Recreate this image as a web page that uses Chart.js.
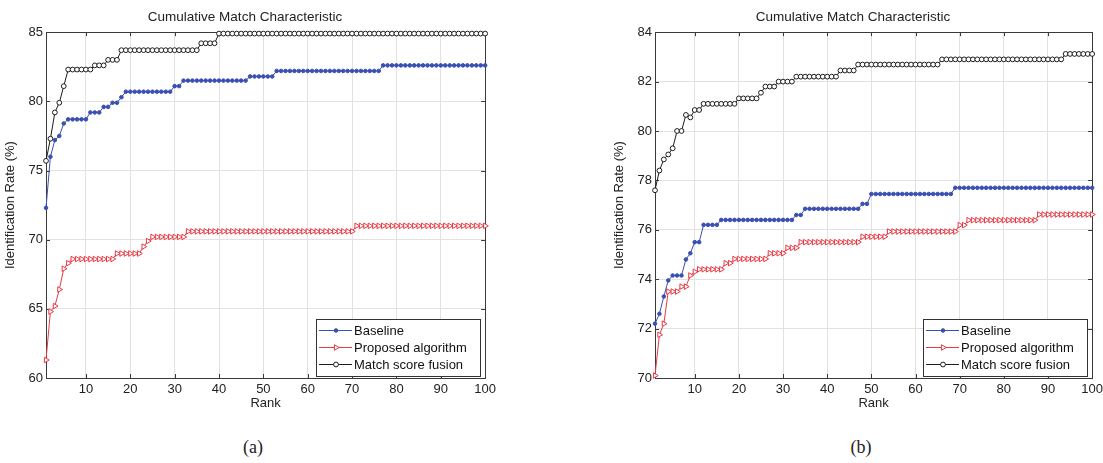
<!DOCTYPE html>
<html>
<head>
<meta charset="utf-8">
<script src="https://cdn.jsdelivr.net/npm/chart.js@4.4.1/dist/chart.umd.min.js"></script>
<style>
    html, body { margin: 0; padding: 0; background: #fff; }
    body { width: 1103px; height: 463px; position: relative; overflow: hidden; }
    canvas { position: absolute; top: 0; }
    #chartA { left: 0; }
    #chartB { left: 609px; }
    .cap {
        position: absolute; top: 437px;
        font: 18px 'Liberation Serif', 'Times New Roman', serif; color: #222;
        transform: translateX(-50%);
    }
</style>
</head>
<body>
<canvas id="chartA" width="500" height="416"></canvas>
<canvas id="chartB" width="498" height="416"></canvas>
<div class="cap" style="left:253px">(a)</div>
<div class="cap" style="left:861px">(b)</div>
<script>
const ranks = Array.from({ length: 100 }, (_, i) => i + 1);
const seriesNames = ['Baseline', 'Proposed algorithm', 'Match score fusion'];
const xTicks = [10, 20, 30, 40, 50, 60, 70, 80, 90, 100];
const yTicksA = [60, 65, 70, 75, 80, 85];
const yTicksB = [70, 72, 74, 76, 78, 80, 82, 84];

// (a)
const baselineA = [
    72.3, 76.0, 77.2, 77.5, 78.4, 78.7, 78.7, 78.7, 78.7, 78.7,
    79.2, 79.2, 79.2, 79.6, 79.6, 79.9, 79.9, 80.3, 80.7, 80.7,
    80.7, 80.7, 80.7, 80.7, 80.7, 80.7, 80.7, 80.7, 80.7, 81.1,
    81.1, 81.5, 81.5, 81.5, 81.5, 81.5, 81.5, 81.5, 81.5, 81.5,
    81.5, 81.5, 81.5, 81.5, 81.5, 81.5, 81.8, 81.8, 81.8, 81.8,
    81.8, 81.8, 82.2, 82.2, 82.2, 82.2, 82.2, 82.2, 82.2, 82.2,
    82.2, 82.2, 82.2, 82.2, 82.2, 82.2, 82.2, 82.2, 82.2, 82.2,
    82.2, 82.2, 82.2, 82.2, 82.2, 82.2, 82.6, 82.6, 82.6, 82.6,
    82.6, 82.6, 82.6, 82.6, 82.6, 82.6, 82.6, 82.6, 82.6, 82.6,
    82.6, 82.6, 82.6, 82.6, 82.6, 82.6, 82.6, 82.6, 82.6, 82.6
];
const proposedA = [
    61.3, 64.8, 65.2, 66.4, 67.9, 68.3, 68.6, 68.6, 68.6, 68.6,
    68.6, 68.6, 68.6, 68.6, 68.6, 68.6, 69.0, 69.0, 69.0, 69.0,
    69.0, 69.0, 69.5, 69.9, 70.2, 70.2, 70.2, 70.2, 70.2, 70.2,
    70.2, 70.2, 70.6, 70.6, 70.6, 70.6, 70.6, 70.6, 70.6, 70.6,
    70.6, 70.6, 70.6, 70.6, 70.6, 70.6, 70.6, 70.6, 70.6, 70.6,
    70.6, 70.6, 70.6, 70.6, 70.6, 70.6, 70.6, 70.6, 70.6, 70.6,
    70.6, 70.6, 70.6, 70.6, 70.6, 70.6, 70.6, 70.6, 70.6, 70.6,
    71.0, 71.0, 71.0, 71.0, 71.0, 71.0, 71.0, 71.0, 71.0, 71.0,
    71.0, 71.0, 71.0, 71.0, 71.0, 71.0, 71.0, 71.0, 71.0, 71.0,
    71.0, 71.0, 71.0, 71.0, 71.0, 71.0, 71.0, 71.0, 71.0, 71.0
];
const fusionA = [
    75.7, 77.3, 79.2, 79.9, 81.1, 82.3, 82.3, 82.3, 82.3, 82.3,
    82.3, 82.6, 82.6, 82.6, 83.0, 83.0, 83.0, 83.7, 83.7, 83.7,
    83.7, 83.7, 83.7, 83.7, 83.7, 83.7, 83.7, 83.7, 83.7, 83.7,
    83.7, 83.7, 83.7, 83.7, 83.7, 84.2, 84.2, 84.2, 84.2, 84.9,
    84.9, 84.9, 84.9, 84.9, 84.9, 84.9, 84.9, 84.9, 84.9, 84.9,
    84.9, 84.9, 84.9, 84.9, 84.9, 84.9, 84.9, 84.9, 84.9, 84.9,
    84.9, 84.9, 84.9, 84.9, 84.9, 84.9, 84.9, 84.9, 84.9, 84.9,
    84.9, 84.9, 84.9, 84.9, 84.9, 84.9, 84.9, 84.9, 84.9, 84.9,
    84.9, 84.9, 84.9, 84.9, 84.9, 84.9, 84.9, 84.9, 84.9, 84.9,
    84.9, 84.9, 84.9, 84.9, 84.9, 84.9, 84.9, 84.9, 84.9, 84.9
];

// (b)
const baselineB = [
    72.2, 72.6, 73.3, 73.95, 74.15, 74.15, 74.15, 74.8, 75.05, 75.5,
    75.5, 76.2, 76.2, 76.2, 76.2, 76.4, 76.4, 76.4, 76.4, 76.4,
    76.4, 76.4, 76.4, 76.4, 76.4, 76.4, 76.4, 76.4, 76.4, 76.4,
    76.4, 76.4, 76.6, 76.6, 76.85, 76.85, 76.85, 76.85, 76.85, 76.85,
    76.85, 76.85, 76.85, 76.85, 76.85, 76.85, 76.85, 77.05, 77.05, 77.45,
    77.45, 77.45, 77.45, 77.45, 77.45, 77.45, 77.45, 77.45, 77.45, 77.45,
    77.45, 77.45, 77.45, 77.45, 77.45, 77.45, 77.45, 77.45, 77.7, 77.7,
    77.7, 77.7, 77.7, 77.7, 77.7, 77.7, 77.7, 77.7, 77.7, 77.7,
    77.7, 77.7, 77.7, 77.7, 77.7, 77.7, 77.7, 77.7, 77.7, 77.7,
    77.7, 77.7, 77.7, 77.7, 77.7, 77.7, 77.7, 77.7, 77.7, 77.7
];
const proposedB = [
    70.1, 71.75, 72.2, 73.5, 73.5, 73.5, 73.7, 73.7, 74.15, 74.3,
    74.4, 74.4, 74.4, 74.4, 74.4, 74.4, 74.65, 74.65, 74.82, 74.82,
    74.82, 74.82, 74.82, 74.82, 74.82, 74.82, 75.05, 75.05, 75.05, 75.05,
    75.27, 75.27, 75.27, 75.5, 75.5, 75.5, 75.5, 75.5, 75.5, 75.5,
    75.5, 75.5, 75.5, 75.5, 75.5, 75.5, 75.5, 75.72, 75.72, 75.72,
    75.72, 75.72, 75.72, 75.93, 75.93, 75.93, 75.93, 75.93, 75.93, 75.93,
    75.93, 75.93, 75.93, 75.93, 75.93, 75.93, 75.93, 75.93, 75.93, 76.19,
    76.19, 76.39, 76.39, 76.39, 76.39, 76.39, 76.39, 76.39, 76.39, 76.39,
    76.39, 76.39, 76.39, 76.39, 76.39, 76.39, 76.39, 76.62, 76.62, 76.62,
    76.62, 76.62, 76.62, 76.62, 76.62, 76.62, 76.62, 76.62, 76.62, 76.62
];
const fusionB = [
    77.6, 78.4, 78.85, 79.05, 79.3, 80.0, 80.0, 80.65, 80.55, 80.85,
    80.85, 81.1, 81.1, 81.1, 81.1, 81.1, 81.1, 81.1, 81.1, 81.32,
    81.32, 81.32, 81.32, 81.32, 81.55, 81.8, 81.8, 81.8, 82.0, 82.0,
    82.0, 82.0, 82.2, 82.2, 82.2, 82.2, 82.2, 82.2, 82.2, 82.2,
    82.2, 82.2, 82.45, 82.45, 82.45, 82.45, 82.69, 82.69, 82.69, 82.69,
    82.69, 82.69, 82.69, 82.69, 82.69, 82.69, 82.69, 82.69, 82.69, 82.69,
    82.69, 82.69, 82.69, 82.69, 82.69, 82.9, 82.9, 82.9, 82.9, 82.9,
    82.9, 82.9, 82.9, 82.9, 82.9, 82.9, 82.9, 82.9, 82.9, 82.9,
    82.9, 82.9, 82.9, 82.9, 82.9, 82.9, 82.9, 82.9, 82.9, 82.9,
    82.9, 82.9, 82.9, 83.12, 83.12, 83.12, 83.12, 83.12, 83.12, 83.12
];

const FONT = "'Liberation Sans', Arial, Helvetica, sans-serif";
const BLUE = '#3a4fb2';
const RED = '#e63a44';
const BLACK = '#1c1c1c';

// box round the plot, with short ticks pointing inward (matlab style)
const frame = {
    id: 'frame',
    beforeDatasetsDraw(chart) {
        const { ctx, chartArea: a, scales } = chart;
        ctx.save();
        ctx.strokeStyle = '#3a3a3a';
        ctx.lineWidth = 1;
        ctx.strokeRect(Math.round(a.left) + 0.5, Math.round(a.top) + 0.5,
            Math.round(a.right - a.left), Math.round(a.bottom - a.top));
        ctx.beginPath();
        scales.x.ticks.forEach(t => {
            const px = Math.round(scales.x.getPixelForValue(t.value)) + 0.5;
            ctx.moveTo(px, a.bottom); ctx.lineTo(px, a.bottom - 4);
            ctx.moveTo(px, a.top); ctx.lineTo(px, a.top + 4);
        });
        scales.y.ticks.forEach(t => {
            const py = Math.round(scales.y.getPixelForValue(t.value)) + 0.5;
            ctx.moveTo(a.left, py); ctx.lineTo(a.left + 4, py);
            ctx.moveTo(a.right, py); ctx.lineTo(a.right - 4, py);
        });
        ctx.stroke();
        ctx.restore();
    }
};

// legend drawn inside the axes, bottom right
const legendBox = {
    id: 'legendBox',
    afterDraw(chart) {
        const { ctx, chartArea: a } = chart;
        const w = 164, h = 57;
        const x0 = Math.round(a.right - 5 - w), y0 = Math.round(a.bottom - 2 - h);
        ctx.save();
        ctx.fillStyle = '#fff';
        ctx.fillRect(x0, y0, w, h);
        ctx.strokeStyle = '#333';
        ctx.lineWidth = 1;
        ctx.strokeRect(x0 + 0.5, y0 + 0.5, w, h);
        ctx.font = '13px ' + FONT;
        ctx.textBaseline = 'middle';
        chart.data.datasets.forEach((ds, i) => {
            const y = y0 + 11.5 + i * 17;
            ctx.strokeStyle = ds.borderColor;
            ctx.lineWidth = 1;
            ctx.beginPath();
            ctx.moveTo(x0 + 3, y);
            ctx.lineTo(x0 + 36, y);
            ctx.stroke();
            ctx.fillStyle = ds.pointBackgroundColor;
            Chart.helpers.drawPoint(ctx, {
                pointStyle: ds.pointStyle,
                radius: ds.pointRadius,
                rotation: ds.pointRotation || 0,
                borderWidth: 1
            }, x0 + 20, y);
            ctx.fillStyle = '#111';
            ctx.fillText(ds.label, x0 + 38, y + 0.5);
        });
        ctx.restore();
    }
};

function makeChart(id, yMin, yMax, yTicks, baseline, proposed, fusion) {
    return new Chart(document.getElementById(id), {
        type: 'line',
        data: {
            labels: ranks,
            datasets: [
                {
                    label: seriesNames[0], data: baseline,
                    borderColor: BLUE, backgroundColor: BLUE,
                    pointBackgroundColor: BLUE, pointBorderColor: BLUE,
                    pointStyle: 'circle', pointRadius: 1.8, pointBorderWidth: 1,
                    borderWidth: 1, clip: false
                },
                {
                    label: seriesNames[1], data: proposed,
                    borderColor: RED, backgroundColor: '#fff',
                    pointBackgroundColor: '#fff', pointBorderColor: RED,
                    pointStyle: 'triangle', pointRotation: 90, pointRadius: 3.2, pointBorderWidth: 1,
                    borderWidth: 1, clip: false
                },
                {
                    label: seriesNames[2], data: fusion,
                    borderColor: BLACK, backgroundColor: '#fff',
                    pointBackgroundColor: '#fff', pointBorderColor: BLACK,
                    pointStyle: 'circle', pointRadius: 2.4, pointBorderWidth: 1,
                    borderWidth: 1, clip: false
                }
            ]
        },
        options: {
            responsive: false,
            animation: false,
            layout: { padding: { top: 4, right: 10, bottom: 2, left: 0 } },
            plugins: {
                legend: { display: false },
                tooltip: { enabled: false },
                title: {
                    display: true,
                    text: 'Cumulative Match Characteristic',
                    color: '#222',
                    font: { family: FONT, size: 13.5, weight: 'normal' },
                    padding: { top: 5, bottom: 7 }
                }
            },
            scales: {
                x: {
                    type: 'linear',
                    min: 1, max: 100,
                    afterBuildTicks: s => { s.ticks = xTicks.map(v => ({ value: v })); },
                    afterFit: s => { s.height = 36; },
                    grid: { color: '#e2e2e2', drawTicks: false },
                    border: { display: false },
                    ticks: { color: '#222', padding: 4, maxRotation: 0, font: { family: FONT, size: 13 } },
                    title: { display: true, text: 'Rank', color: '#222', font: { family: FONT, size: 13 }, padding: { top: 0, bottom: 3 } }
                },
                y: {
                    min: yMin, max: yMax,
                    afterBuildTicks: s => { s.ticks = yTicks.map(v => ({ value: v })); },
                    afterFit: s => { s.width = 46; },
                    grid: { color: '#e2e2e2', drawTicks: false },
                    border: { display: false },
                    ticks: { color: '#222', padding: 3, font: { family: FONT, size: 13 } },
                    title: { display: true, text: 'Identification Rate (%)', color: '#222', font: { family: FONT, size: 13 }, padding: { top: 3, bottom: 0 } }
                }
            }
        },
        plugins: [frame, legendBox]
    });
}

makeChart('chartA', 60, 85, yTicksA, baselineA, proposedA, fusionA);
makeChart('chartB', 70, 84, yTicksB, baselineB, proposedB, fusionB);
</script>
</body>
</html>
